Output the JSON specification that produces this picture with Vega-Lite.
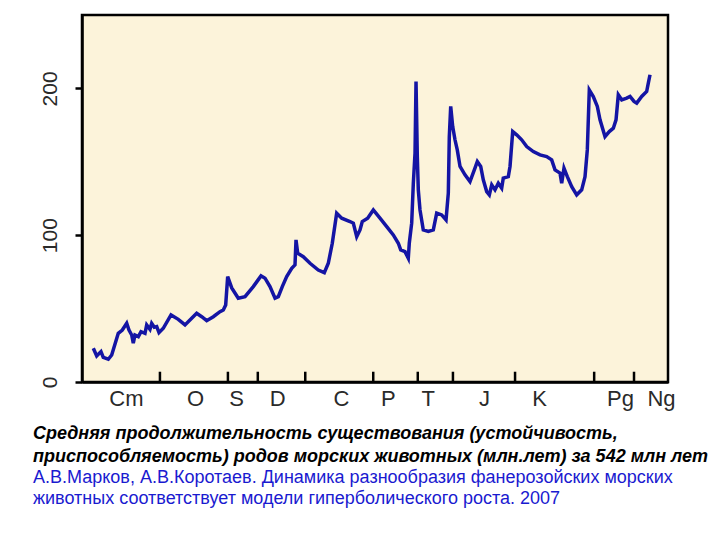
{
  "$schema": "https://vega.github.io/schema/vega-lite/v6.json",
  "autosize": {"type": "none"},
  "padding": {"left": 82, "top": 15, "right": 52, "bottom": 158},
  "width": 586,
  "height": 367,
  "background": "white",
  "config": {
    "font": "Liberation Sans",
    "view": {"stroke": "black", "strokeWidth": 2.5, "fill": "#FCF3DA"}
  },
  "title": {
    "text": ["Средняя продолжительность существования (устойчивость,", "приспособляемость) родов морских животных (млн.лет) за 542 млн лет"],
    "subtitle": ["А.В.Марков, А.В.Коротаев. Динамика разнообразия фанерозойских морских", "животных соответствует модели гиперболического роста. 2007"],
    "orient": "bottom",
    "anchor": "start",
    "frame": "group",
    "dx": -49,
    "offset": 16,
    "font": "Liberation Sans",
    "fontSize": 18,
    "fontStyle": "italic",
    "fontWeight": "bold",
    "color": "black",
    "lineHeight": 23,
    "subtitleFont": "Liberation Sans",
    "subtitleFontSize": 18,
    "subtitleColor": "#1a1ad0",
    "subtitleLineHeight": 21,
    "subtitlePadding": 3
  },
  "datasets": {
    "series": [
      {"t": 1.93, "v": 23.0}, {"t": 2.51, "v": 17.7}, {"t": 3.24, "v": 20.7}, {"t": 3.63, "v": 16.8},
      {"t": 4.49, "v": 15.5}, {"t": 5.07, "v": 18.4}, {"t": 6.19, "v": 33.2}, {"t": 6.88, "v": 35.4},
      {"t": 7.63, "v": 40.0}, {"t": 8.02, "v": 35.4}, {"t": 8.48, "v": 32.0}, {"t": 8.75, "v": 26.4},
      {"t": 9.04, "v": 32.0}, {"t": 9.61, "v": 30.9}, {"t": 10.07, "v": 34.3}, {"t": 10.75, "v": 33.2},
      {"t": 11.04, "v": 38.9}, {"t": 11.6, "v": 35.9}, {"t": 11.89, "v": 40.0}, {"t": 12.34, "v": 37.3},
      {"t": 12.75, "v": 37.7}, {"t": 13.14, "v": 33.6}, {"t": 13.87, "v": 36.6}, {"t": 15.19, "v": 45.7},
      {"t": 16.43, "v": 42.7}, {"t": 17.58, "v": 38.9}, {"t": 18.72, "v": 43.4}, {"t": 19.57, "v": 46.8},
      {"t": 20.43, "v": 44.5}, {"t": 21.28, "v": 41.8}, {"t": 22.41, "v": 44.5}, {"t": 23.55, "v": 47.9},
      {"t": 24.11, "v": 49.1}, {"t": 24.52, "v": 52.5}, {"t": 24.86, "v": 71.8}, {"t": 25.55, "v": 64.1},
      {"t": 26.67, "v": 57.1}, {"t": 27.82, "v": 58.1}, {"t": 29.23, "v": 65.0}, {"t": 30.55, "v": 72.3},
      {"t": 31.23, "v": 70.7}, {"t": 32.08, "v": 65.0}, {"t": 32.94, "v": 57.1}, {"t": 33.5, "v": 58.1},
      {"t": 34.18, "v": 65.0}, {"t": 34.93, "v": 71.8}, {"t": 35.79, "v": 77.5}, {"t": 36.35, "v": 79.8},
      {"t": 36.52, "v": 96.8}, {"t": 36.81, "v": 87.7}, {"t": 37.76, "v": 85.4}, {"t": 38.91, "v": 80.9},
      {"t": 40.32, "v": 76.3}, {"t": 41.35, "v": 74.5}, {"t": 42.03, "v": 80.9}, {"t": 42.71, "v": 94.5},
      {"t": 43.46, "v": 115.0}, {"t": 44.32, "v": 111.6}, {"t": 45.73, "v": 109.3}, {"t": 46.3, "v": 108.2},
      {"t": 46.88, "v": 99.0}, {"t": 47.44, "v": 103.6}, {"t": 47.83, "v": 109.3}, {"t": 48.75, "v": 111.6},
      {"t": 49.71, "v": 117.2}, {"t": 50.85, "v": 111.6}, {"t": 52.0, "v": 105.9}, {"t": 53.12, "v": 100.2},
      {"t": 53.98, "v": 94.5}, {"t": 54.39, "v": 90.0}, {"t": 55.12, "v": 88.8}, {"t": 55.68, "v": 84.3},
      {"t": 55.85, "v": 94.5}, {"t": 56.26, "v": 108.2}, {"t": 56.54, "v": 135.4}, {"t": 56.83, "v": 155.9},
      {"t": 57.0, "v": 204.7}, {"t": 57.22, "v": 153.6}, {"t": 57.39, "v": 130.9}, {"t": 57.68, "v": 117.2},
      {"t": 58.24, "v": 103.6}, {"t": 59.1, "v": 102.5}, {"t": 59.95, "v": 103.6}, {"t": 60.53, "v": 115.0},
      {"t": 61.38, "v": 113.8}, {"t": 62.12, "v": 110.4}, {"t": 62.51, "v": 128.6}, {"t": 62.68, "v": 167.2},
      {"t": 62.92, "v": 187.7}, {"t": 63.26, "v": 174.0}, {"t": 63.65, "v": 165.0}, {"t": 64.04, "v": 158.1},
      {"t": 64.51, "v": 146.8}, {"t": 65.36, "v": 141.1}, {"t": 66.21, "v": 136.5}, {"t": 67.06, "v": 145.7},
      {"t": 67.46, "v": 150.2}, {"t": 68.04, "v": 146.8}, {"t": 68.48, "v": 137.7}, {"t": 69.06, "v": 129.7},
      {"t": 69.51, "v": 127.5}, {"t": 69.92, "v": 134.3}, {"t": 70.48, "v": 130.9}, {"t": 71.04, "v": 135.4},
      {"t": 71.62, "v": 132.0}, {"t": 71.89, "v": 138.9}, {"t": 72.75, "v": 139.9}, {"t": 73.04, "v": 146.8},
      {"t": 73.5, "v": 170.6}, {"t": 74.18, "v": 168.4}, {"t": 75.03, "v": 165.0}, {"t": 75.89, "v": 160.4},
      {"t": 77.01, "v": 157.0}, {"t": 78.16, "v": 154.7}, {"t": 79.3, "v": 153.6}, {"t": 80.15, "v": 151.3},
      {"t": 80.72, "v": 144.5}, {"t": 81.57, "v": 142.3}, {"t": 81.86, "v": 135.4}, {"t": 82.25, "v": 145.7},
      {"t": 82.82, "v": 139.9}, {"t": 83.57, "v": 133.1}, {"t": 84.42, "v": 127.5}, {"t": 85.27, "v": 130.9},
      {"t": 85.84, "v": 139.9}, {"t": 86.23, "v": 158.1}, {"t": 86.57, "v": 199.0}, {"t": 87.25, "v": 194.5},
      {"t": 87.94, "v": 187.7}, {"t": 88.4, "v": 178.6}, {"t": 89.25, "v": 167.2}, {"t": 89.98, "v": 170.6},
      {"t": 90.67, "v": 172.9}, {"t": 91.13, "v": 178.6}, {"t": 91.52, "v": 195.6}, {"t": 92.1, "v": 192.2},
      {"t": 92.95, "v": 193.4}, {"t": 93.52, "v": 194.5}, {"t": 94.2, "v": 191.1}, {"t": 94.66, "v": 190.0},
      {"t": 95.51, "v": 194.5}, {"t": 96.36, "v": 197.9}, {"t": 96.64, "v": 203.6}, {"t": 96.93, "v": 209.3}
    ],
    "boundaries": [
      {"b": 13.3, "lo": 0, "hi": 7}, {"b": 24.9, "lo": 0, "hi": 7}, {"b": 30.0, "lo": 0, "hi": 7},
      {"b": 38.1, "lo": 0, "hi": 7}, {"b": 49.7, "lo": 0, "hi": 7}, {"b": 57.3, "lo": 0, "hi": 7},
      {"b": 63.3, "lo": 0, "hi": 7}, {"b": 73.9, "lo": 0, "hi": 7}, {"b": 87.4, "lo": 0, "hi": 7},
      {"b": 94.2, "lo": 0, "hi": 7}
    ]
  },
  "layer": [
    {
      "data": {"name": "series"},
      "mark": {"type": "line", "color": "#1414A4", "strokeWidth": 3.5, "strokeJoin": "miter"},
      "encoding": {
        "x": {
          "field": "t", "type": "quantitative",
          "scale": {"domain": [0, 100], "nice": false, "zero": false},
          "axis": {
            "title": null, "grid": false, "ticks": false,
            "domainColor": "black", "domainWidth": 2.5,
            "values": [7.5, 19.3, 26.3, 33.3, 44.2, 52.2, 59.0, 68.6, 78.0, 91.8, 98.8],
            "labelExpr": "datum.value < 10 ? 'Cm' : datum.value < 22 ? 'O' : datum.value < 28 ? 'S' : datum.value < 38 ? 'D' : datum.value < 48 ? 'C' : datum.value < 55 ? 'P' : datum.value < 62 ? 'T' : datum.value < 72 ? 'J' : datum.value < 85 ? 'K' : datum.value < 95 ? 'Pg' : 'Ng'",
            "labelFontSize": 22, "labelColor": "#2a2a2a", "labelPadding": 6,
            "labelOverlap": false, "labelFlush": false, "labelBound": false
          }
        },
        "y": {
          "field": "v", "type": "quantitative",
          "scale": {"domain": [0, 250], "nice": false},
          "axis": {
            "title": null, "grid": false,
            "values": [0, 100, 200],
            "tickSize": 7, "tickWidth": 2.5, "tickColor": "black",
            "domainColor": "black", "domainWidth": 2.5,
            "labelAngle": -90, "labelAlign": "center", "labelBaseline": "bottom",
            "labelFontSize": 21, "labelColor": "#2a2a2a", "labelPadding": 15,
            "labelOverlap": false, "labelFlush": false, "labelBound": false
          }
        }
      }
    },
    {
      "data": {"name": "boundaries"},
      "mark": {"type": "rule", "color": "black", "strokeWidth": 2.5},
      "encoding": {
        "x": {"field": "b", "type": "quantitative"},
        "y": {"field": "lo", "type": "quantitative"},
        "y2": {"field": "hi"}
      }
    }
  ]
}
